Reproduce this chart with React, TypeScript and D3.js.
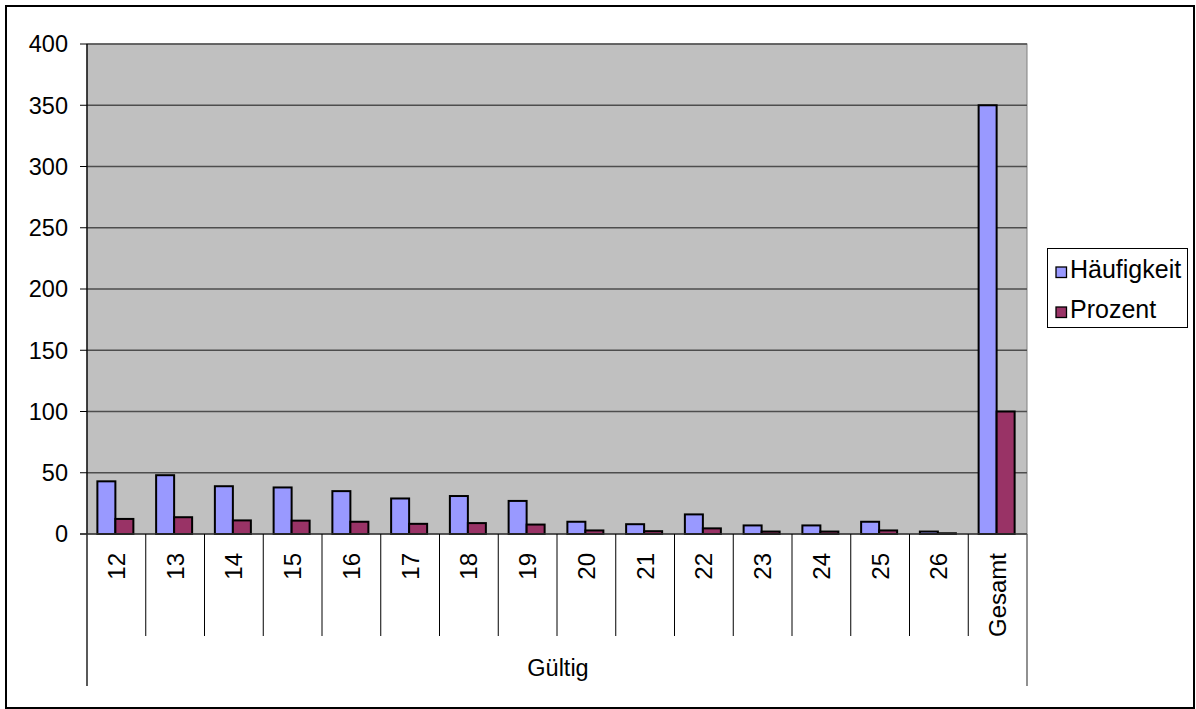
import React from 'react';
import * as d3 from 'd3';

// Altersverteilung: Häufigkeit und Prozent je Kategorie
const categories = ['12', '13', '14', '15', '16', '17', '18', '19', '20', '21', '22', '23', '24', '25', '26', 'Gesamt'];
const groups = [
  { label: 'Gültig', from: '12', to: '26' },
  { label: '', from: 'Gesamt', to: 'Gesamt' },
];
const haeufigkeit = [43, 48, 39, 38, 35, 29, 31, 27, 10, 8, 16, 7, 7, 10, 2, 350];
const prozent = [12.3, 13.7, 11.1, 10.9, 10.0, 8.3, 8.9, 7.7, 2.9, 2.3, 4.6, 2.0, 2.0, 2.9, 0.6, 100];
const seriesNames = ['Häufigkeit', 'Prozent'];
const seriesColors = ['#9999FF', '#993366'];
const yTicks = [0, 50, 100, 150, 200, 250, 300, 350, 400];

const W = 1196;
const H = 709;
const plot = { left: 87, right: 1027, top: 44, bottom: 534 };
const font = '"Liberation Sans", Arial, sans-serif';

const App = () => {
  const x = d3.scaleBand<string>().domain(categories).range([plot.left, plot.right]).padding(0);
  const y = d3.scaleLinear().domain([0, 400]).range([plot.bottom, plot.top]);
  const inner = d3.scaleBand<string>().domain(seriesNames).range([-19, 17]).padding(0);

  const values = [haeufigkeit, prozent];

  return (
    <svg
      width={W}
      height={H}
      style={{ position: 'absolute', left: 0, top: 0, display: 'block' }}
      fontFamily={font}
    >
      <rect x={0} y={0} width={W} height={H} fill="#fff" />
      {/* Rahmen */}
      <rect x={6} y={6} width={1188} height={702} fill="none" stroke="#000" strokeWidth={2} />

      {/* Zeichenfläche */}
      <rect
        x={plot.left}
        y={plot.top}
        width={plot.right - plot.left}
        height={plot.bottom - plot.top}
        fill="#C0C0C0"
        stroke="#808080"
        strokeWidth={1}
      />
      {yTicks.map((t) => (
        <g key={t}>
          {t > 0 && (
            <line x1={plot.left} x2={plot.right} y1={y(t)} y2={y(t)} stroke="#4d4d4d" strokeWidth={1.5} />
          )}
          <line x1={plot.left - 7} x2={plot.left} y1={y(t)} y2={y(t)} stroke="#000" strokeWidth={1} />
          <text x={68} y={y(t)} dy="0.36em" textAnchor="end" fontSize={23.5}>
            {t}
          </text>
        </g>
      ))}

      {/* Balken */}
      {categories.map((c, i) => {
        const cx = (x(c) ?? 0) + x.bandwidth() / 2;
        return (
          <g key={c}>
            {seriesNames.map((s, j) => {
              const v = values[j][i];
              return (
                <rect
                  key={s}
                  x={cx + (inner(s) ?? 0)}
                  y={y(v)}
                  width={inner.bandwidth()}
                  height={plot.bottom - y(v)}
                  fill={seriesColors[j]}
                  stroke="#000"
                  strokeWidth={2}
                />
              );
            })}
          </g>
        );
      })}

      {/* Achsen */}
      <line x1={plot.left} x2={plot.left} y1={plot.top} y2={686} stroke="#000" strokeWidth={1.3} />
      <line x1={plot.left - 7} x2={plot.right} y1={plot.bottom} y2={plot.bottom} stroke="#333" strokeWidth={1.5} />

      {/* Kategorietrenner und Beschriftungen */}
      {categories.map((c, i) => {
        const x0 = x(c) ?? 0;
        const cx = x0 + x.bandwidth() / 2;
        return (
          <g key={'lab' + c}>
            {i > 0 && (
              <line x1={x0} x2={x0} y1={plot.bottom} y2={636} stroke="#000" strokeWidth={1} />
            )}
            <text
              transform={`translate(${cx + 8.5},553) rotate(-90)`}
              textAnchor="end"
              fontSize={24}
            >
              {c}
            </text>
          </g>
        );
      })}
      <line x1={plot.right} x2={plot.right} y1={plot.bottom} y2={686} stroke="#555" strokeWidth={1.3} />
      {groups.map((g) =>
        g.label ? (
          <text key={g.label} x={558} y={676} textAnchor="middle" fontSize={23.5}>
            {g.label}
          </text>
        ) : null
      )}

      {/* Legende */}
      <rect x={1047.5} y={248.5} width={140} height={79} fill="#fff" stroke="#000" strokeWidth={1} />
      {seriesNames.map((s, j) => (
        <g key={'leg' + s} transform={`translate(1056,${267 + j * 40})`}>
          <rect x={0} y={0} width={10.5} height={10.5} fill={seriesColors[j]} stroke="#000" strokeWidth={1.3} />
          <text x={14} y={10.5} fontSize={25}>
            {s}
          </text>
        </g>
      ))}
    </svg>
  );
};

export default App;
